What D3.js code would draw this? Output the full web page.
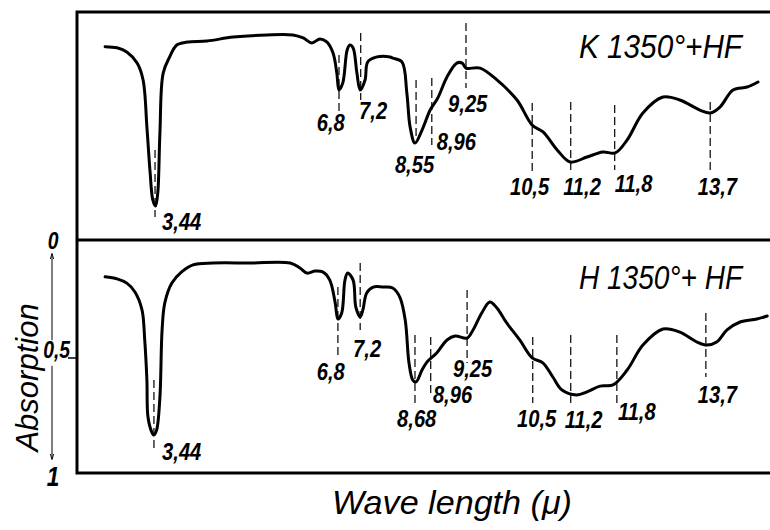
<!DOCTYPE html>
<html lang="en">
<head>
<meta charset="UTF-8">
<title>IR absorption spectra</title>
<script src="https://d3js.org/d3.v7.min.js"></script>
<style>
  body { margin: 0; background: #fff; }
  text { font-family: "Liberation Sans", Arial, sans-serif; font-style: italic; fill: #000; }
  text.num { font-weight: bold; }
</style>
</head>
<body>
<div id="chart"></div>
<script>
// wavelength (micron) and absorption
var kWave = [2.61,2.83,3.01,3.20,3.31,3.38,3.44,3.49,3.54,3.58,3.62,3.68,3.80,3.93,4.12,4.49,4.97,5.59,6.07,6.26,6.42,6.57,6.70,6.81,6.88,6.92,6.99,7.07,7.12,7.18,7.25,7.31,7.40,7.45,7.62,7.86,7.91,8.08,8.17,8.23,8.32,8.45,8.60,8.74,8.91,9.09,9.19,9.26,9.52,9.83,10.20,10.48,10.68,10.94,11.18,11.49,11.78,12.01,12.23,12.52,12.89,13.20,13.57,13.76,13.94,14.18,14.44,14.64];
var kAbs  = [0.152,0.157,0.175,0.224,0.298,0.504,0.706,0.825,0.851,0.794,0.531,0.268,0.197,0.145,0.132,0.127,0.110,0.101,0.101,0.114,0.136,0.118,0.132,0.180,0.268,0.342,0.311,0.167,0.145,0.158,0.268,0.342,0.298,0.219,0.197,0.197,0.202,0.219,0.355,0.504,0.575,0.518,0.430,0.377,0.285,0.224,0.224,0.246,0.246,0.298,0.386,0.496,0.526,0.605,0.658,0.636,0.614,0.618,0.561,0.443,0.373,0.386,0.430,0.443,0.417,0.342,0.329,0.307];

var hWave = [2.61,2.83,3.01,3.16,3.29,3.34,3.38,3.40,3.47,3.51,3.56,3.62,3.66,3.71,3.84,4.02,4.23,4.60,5.28,6.02,6.20,6.33,6.48,6.62,6.75,6.85,6.90,6.97,7.03,7.08,7.18,7.23,7.31,7.36,7.43,7.55,7.73,7.91,8.04,8.14,8.21,8.28,8.34,8.45,8.54,8.72,8.91,9.06,9.28,9.39,9.55,9.70,9.83,10.01,10.25,10.48,10.68,10.86,11.03,11.30,11.49,11.73,11.97,12.23,12.52,12.89,13.20,13.52,13.70,13.88,14.07,14.31,14.62,14.81];
var hAbs  = [0.158,0.167,0.185,0.223,0.300,0.429,0.601,0.760,0.824,0.837,0.815,0.674,0.386,0.270,0.185,0.137,0.107,0.099,0.099,0.099,0.120,0.142,0.133,0.137,0.172,0.270,0.339,0.313,0.172,0.142,0.172,0.288,0.330,0.300,0.227,0.202,0.202,0.206,0.245,0.343,0.528,0.601,0.609,0.558,0.524,0.485,0.429,0.412,0.421,0.386,0.313,0.266,0.292,0.356,0.429,0.506,0.528,0.588,0.644,0.665,0.652,0.627,0.622,0.558,0.451,0.382,0.395,0.438,0.451,0.438,0.386,0.352,0.339,0.326];

// band marks: label, wavelength of the mark, mark from/to (absorption), label at (wavelength, absorption)
var kBands = [
  ["3,44", 3.53, 0.605, 0.899, 3.66, 0.956],
  ["6,8",  6.92, 0.189, 0.452, 6.51, 0.522],
  ["7,2",  7.32, 0.092, 0.386, 7.29, 0.469],
  ["8,55", 8.34, 0.298, 0.561, 7.95, 0.706],
  ["8,96", 8.63, 0.289, 0.583, 8.72, 0.605],
  ["9,25", 9.26, 0.048, 0.333, 8.93, 0.439],
  ["10,5", 10.48, 0.399, 0.702, 10.07, 0.803],
  ["11,2", 11.19, 0.395, 0.702, 11.05, 0.803],
  ["11,8", 12.00, 0.408, 0.693, 12.00, 0.789],
  ["13,7", 13.76, 0.395, 0.702, 13.53, 0.803]
];
var hBands = [
  ["3,44", 3.51, 0.601, 0.901, 3.66, 0.944],
  ["6,8",  6.90, 0.202, 0.502, 6.51, 0.601],
  ["7,2",  7.31, 0.099, 0.386, 7.18, 0.502],
  ["8,68", 8.32, 0.408, 0.700, 7.99, 0.803],
  ["8,96", 8.61, 0.416, 0.674, 8.65, 0.700],
  ["9,25", 9.28, 0.215, 0.528, 9.02, 0.588],
  ["10,5", 10.49, 0.416, 0.700, 10.20, 0.803],
  ["11,2", 11.19, 0.408, 0.710, 11.08, 0.807],
  ["11,8", 12.04, 0.408, 0.700, 12.06, 0.773],
  ["13,7", 13.68, 0.313, 0.588, 13.53, 0.700]
];

var panelNames = ["K 1350°+HF", "H 1350°+ HF"];
var absTicks = [0, 0.5, 1];
var absTickLabels = ["0", "0,5", "1"];

var width = 770, height = 530;
// frame edges (window.top is read-only, so no "top" here)
var frameL = 77, frameT = 12, frameM = 240, frameB = 473;
var squeeze = 0.84; // hand lettering is narrower than the font

var svg = d3.select("#chart").append("svg")
    .attr("width", width)
    .attr("height", height);

var x = d3.scaleLinear().domain([2, 15]).range([72, 777.5]);
var yTop = d3.scaleLinear().domain([0, 1]).range([frameT, frameM]);
var yBot = d3.scaleLinear().domain([0, 1]).range([frameM, frameB]);

// frame
svg.append("path")
    .attr("d", "M" + (width + 5) + "," + frameT + "H" + frameL + "V" + frameB + "H" + (width + 5)
         + "M" + frameL + "," + frameM + "H" + (width + 5))
    .attr("fill", "none")
    .attr("stroke", "#000")
    .attr("stroke-width", 3);

function drawPanel(wave, abs, bands, y, name, nameY) {
  var g = svg.append("g");
  var line = d3.line()
      .x(function(d) { return x(d[0]); })
      .y(function(d) { return y(d[1]); })
      .curve(d3.curveCatmullRom.alpha(0.5));

  g.append("path")
      .datum(d3.zip(wave, abs))
      .attr("d", line)
      .attr("fill", "none")
      .attr("stroke", "#000")
      .attr("stroke-width", 3)
      .attr("stroke-linejoin", "round")
      .attr("stroke-linecap", "round");

  g.selectAll(".band")
      .data(bands)
      .enter().append("line")
      .attr("x1", function(d) { return x(d[1]); })
      .attr("x2", function(d) { return x(d[1]); })
      .attr("y1", function(d) { return y(d[2]); })
      .attr("y2", function(d) { return y(d[3]); })
      .attr("stroke", "#000")
      .attr("stroke-width", 1.2)
      .attr("stroke-dasharray", "8,4");

  g.selectAll(".blabel")
      .data(bands)
      .enter().append("text")
      .attr("class", "num")
      .attr("transform", function(d) {
        return "translate(" + x(d[4]) + "," + y(d[5]) + ") scale(" + squeeze + ",1)";
      })
      .style("font-size", "24px")
      .text(function(d) { return d[0]; });

  g.append("text")
      .attr("x", 579)
      .attr("y", nameY)
      .attr("textLength", 163)
      .attr("lengthAdjust", "spacingAndGlyphs")
      .style("font-size", "33px")
      .text(name);
}

drawPanel(kWave, kAbs, kBands, yTop, panelNames[0], 58);
drawPanel(hWave, hAbs, hBands, yBot, panelNames[1], 289);

// absorption scale on the lower panel
var defs = svg.append("defs");
defs.append("marker")
    .attr("id", "arr")
    .attr("viewBox", "0 0 10 10")
    .attr("refX", 9).attr("refY", 5)
    .attr("markerWidth", 6).attr("markerHeight", 8)
    .attr("orient", "auto")
  .append("path")
    .attr("d", "M0,2L10,5L0,8")
    .attr("fill", "none")
    .attr("stroke", "#000")
    .attr("stroke-width", 1.5);

var axX = 52;
svg.append("line")
    .attr("x1", axX).attr("x2", axX)
    .attr("y1", yBot(0.43)).attr("y2", yBot(0.06))
    .attr("stroke", "#000").attr("stroke-width", 1)
    .attr("marker-end", "url(#arr)");
svg.append("line")
    .attr("x1", axX).attr("x2", axX)
    .attr("y1", yBot(0.54)).attr("y2", yBot(0.94))
    .attr("stroke", "#000").attr("stroke-width", 1)
    .attr("marker-end", "url(#arr)");

svg.append("line")
    .attr("x1", 68).attr("x2", frameL)
    .attr("y1", yBot(0.5) + 1.5).attr("y2", yBot(0.5) + 1.5)
    .attr("stroke", "#000").attr("stroke-width", 1.5);

svg.selectAll(".ytick")
    .data(absTicks)
    .enter().append("text")
    .attr("class", "num")
    .attr("transform", function(d, i) {
      var tx = d === 0.5 ? 70 : axX + 1;
      return "translate(" + tx + "," + (yBot(d) + [9, 1, 13][i]) + ") scale(" + squeeze + ",1)";
    })
    .attr("text-anchor", function(d) { return d === 0.5 ? "end" : "middle"; })
    .style("font-size", function(d) { return d === 1 ? "27px" : "23px"; })
    .text(function(d, i) { return absTickLabels[i]; });

svg.append("text")
    .attr("transform", "translate(38," + yBot(0.59) + ") rotate(-90)")
    .attr("text-anchor", "middle")
    .style("font-size", "31px")
    .text("Absorption");

svg.append("text")
    .attr("x", 332)
    .attr("y", 514)
    .attr("textLength", 240)
    .attr("lengthAdjust", "spacingAndGlyphs")
    .style("font-size", "33px")
    .text("Wave  length (μ)");
</script>
</body>
</html>
